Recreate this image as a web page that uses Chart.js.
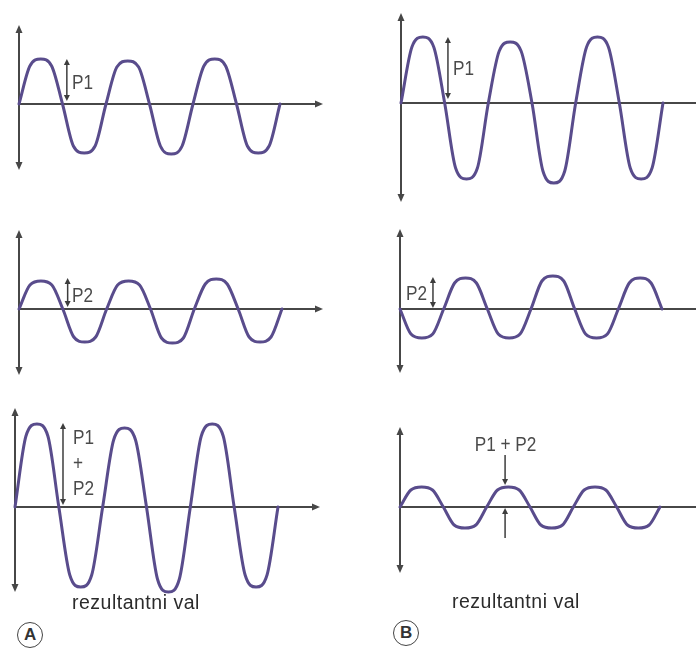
<!DOCTYPE html>
<html><head><meta charset="utf-8">
<script src="https://cdn.jsdelivr.net/npm/chart.js@4.4.0/dist/chart.umd.min.js"></script>
<style>
html,body{margin:0;padding:0;background:#fff;width:696px;height:651px;overflow:hidden;position:relative;}
canvas{position:absolute;}
.lbl{position:absolute;font-family:"Liberation Sans",Arial,sans-serif;font-size:19.5px;letter-spacing:0.5px;color:#2b2b2b;white-space:nowrap;line-height:19px;}
.circ{position:absolute;width:24px;height:24px;border:1.8px solid #444;border-radius:50%;font:bold 17px "Liberation Sans",Arial,sans-serif;color:#333;text-align:center;line-height:24px;}
</style></head><body>
<script>
// x positions of the samples, in eighths of one wave period
const phaseSteps = [0,1,2,3,4,5,6,7,8,9,10,11,12,13,14,15,16,17,18,19,20,21,22,23,24];
// wave values (amplitude units)
const waveA1 = [0,38,45,38,0,-42,-49,-42,0,37,43,37,0,-42,-50,-42,0,38,45,38,0,-42,-49,-42,0];
const waveA2 = [0,24,28,24,0,-28,-33,-28,0,24,28,24,0,-29,-34,-29,0,25,30,25,0,-28,-33,-28,0];
const waveA3 = [0,71,83,71,0,-68,-80,-68,0,67,79,67,0,-72,-85,-72,0,71,83,71,0,-68,-80,-68,0];
const waveB1 = [0,56,66,56,0,-65,-76,-65,0,52,61,52,0,-68,-80,-68,0,56,66,56,0,-65,-76,-65,0];
const waveB2 = [0,-25,-29,-25,0,26,31,26,0,-25,-29,-25,0,28,33,28,0,-25,-29,-25,0,26,31,26,0];
const waveB3 = [0,17,20,17,0,-18,-21,-18,0,17,20,17,0,-18,-21,-18,0,17,20,17,0,-18,-21,-18,0];
// text labels
const labelP1 = "P1";
const labelP2 = "P2";
const labelSumStack = ["P1", "+", "P2"];
const labelSum = "P1 + P2";
const captionText = "rezultantni val";
const panelLetters = ["A", "B"];

const WAVE = '#594c8c';
const AXIS = '#474747';
const NOTE = '#3d3d3d';
const TXT = '#4a4a4a';
const NOTE_FONT = '20px "Liberation Sans", Arial, sans-serif';
const NARROW = 0.86;
const PAD = 12;

// layout (page pixels) for each panel; notes are in data units
const panels = [
  {data: waveA1, left:19, axisY:104, top:25, bottom:170, right:323, waveEnd:280, xArrow:true,
   notes:[{t:'span', x:4.4, y1:45, y2:3}, {t:'text', x:4.87, y:22, s:labelP1, a:'left'}]},
  {data: waveA2, left:19, axisY:309, top:230, bottom:375, right:323, waveEnd:282, xArrow:true,
   notes:[{t:'span', x:4.44, y1:31, y2:2}, {t:'text', x:4.84, y:14, s:labelP2, a:'left'}]},
  {data: waveA3, left:15, axisY:507, top:408, bottom:592, right:320, waveEnd:278, xArrow:true,
   notes:[{t:'span', x:4.38, y1:84, y2:2},
          {t:'text', x:5.29, y:70, s:labelSumStack[0], a:'left'},
          {t:'text', x:5.29, y:44, s:labelSumStack[1], a:'left'},
          {t:'text', x:5.29, y:19, s:labelSumStack[2], a:'left'}]},
  {data: waveB1, left:401, axisY:103, top:13, bottom:202, right:698, waveEnd:663, xArrow:false,
   notes:[{t:'span', x:4.3, y1:66, y2:4}, {t:'text', x:4.76, y:35, s:labelP1, a:'left'}]},
  {data: waveB2, left:400, axisY:309, top:229, bottom:373, right:698, waveEnd:662, xArrow:false,
   notes:[{t:'span', x:3.02, y1:32, y2:1}, {t:'text', x:2.47, y:16, s:labelP2, a:'right'}]},
  {data: waveB3, left:400, axisY:507, top:427, bottom:573, right:698, waveEnd:660, xArrow:false,
   notes:[{t:'text', x:9.74, y:63, s:labelSum, a:'center'},
          {t:'arrow', x:9.7, y1:52, y2:22},
          {t:'arrow', x:9.7, y1:-31, y2:-1}]}
];

function head(ctx, x, y, dir, w, l){
  ctx.beginPath();
  if(dir==='up'){ctx.moveTo(x,y);ctx.lineTo(x-w/2,y+l);ctx.lineTo(x+w/2,y+l);}
  else if(dir==='down'){ctx.moveTo(x,y);ctx.lineTo(x-w/2,y-l);ctx.lineTo(x+w/2,y-l);}
  else {ctx.moveTo(x,y);ctx.lineTo(x-l,y-w/2);ctx.lineTo(x-l,y+w/2);}
  ctx.closePath();ctx.fill();
}

const axesPlugin = {
  id:'waveAxes',
  beforeDatasetsDraw(chart, args, opts){
    const ctx = chart.ctx, ca = chart.chartArea, sx = chart.scales.x, sy = chart.scales.y;
    const x0 = sx.getPixelForValue(0), y0 = sy.getPixelForValue(0);
    ctx.save();
    ctx.strokeStyle = AXIS; ctx.fillStyle = AXIS; ctx.lineWidth = 2;
    ctx.beginPath(); ctx.moveTo(x0, ca.top+4); ctx.lineTo(x0, ca.bottom-4); ctx.stroke();
    head(ctx, x0, ca.top, 'up', 7, 8);
    head(ctx, x0, ca.bottom, 'down', 7, 8);
    ctx.beginPath(); ctx.moveTo(x0, y0); ctx.lineTo(opts.xArrow ? ca.right-4 : ca.right, y0); ctx.stroke();
    if(opts.xArrow) head(ctx, ca.right, y0, 'right', 7, 8);
    ctx.restore();
  },
  afterDatasetsDraw(chart, args, opts){
    const ctx = chart.ctx, sx = chart.scales.x, sy = chart.scales.y;
    ctx.save();
    ctx.strokeStyle = NOTE; ctx.fillStyle = NOTE; ctx.lineWidth = 1.5;
    (opts.notes||[]).forEach(n=>{
      if(n.t==='span'){
        const x = sx.getPixelForValue(n.x), ya = sy.getPixelForValue(n.y1), yb = sy.getPixelForValue(n.y2);
        ctx.beginPath(); ctx.moveTo(x, ya+3); ctx.lineTo(x, yb-3); ctx.stroke();
        head(ctx, x, ya, 'up', 6, 6); head(ctx, x, yb, 'down', 6, 6);
      } else if(n.t==='arrow'){
        const x = sx.getPixelForValue(n.x), ya = sy.getPixelForValue(n.y1), yb = sy.getPixelForValue(n.y2);
        ctx.beginPath(); ctx.moveTo(x, ya); ctx.lineTo(x, yb + (yb>ya ? -3 : 3)); ctx.stroke();
        head(ctx, x, yb, yb>ya ? 'down' : 'up', 6, 6);
      } else if(n.t==='text'){
        ctx.save();
        ctx.fillStyle = TXT;
        ctx.font = NOTE_FONT; ctx.textAlign = n.a; ctx.textBaseline = 'middle';
        ctx.translate(sx.getPixelForValue(n.x), sy.getPixelForValue(n.y)+1);
        ctx.scale(NARROW, 1);
        ctx.fillText(n.s, 0, 0);
        ctx.restore();
      }
    });
    ctx.restore();
  }
};

panels.forEach(p=>{
  const ppu = (p.waveEnd - p.left)/24;
  const cv = document.createElement('canvas');
  const w = (p.right - p.left) + 2*PAD, h = (p.bottom - p.top) + 2*PAD;
  cv.width = w; cv.height = h;
  cv.style.width = w+'px'; cv.style.height = h+'px';
  cv.style.left = (p.left-PAD)+'px'; cv.style.top = (p.top-PAD)+'px';
  document.body.appendChild(cv);
  new Chart(cv, {
    type:'line',
    data:{datasets:[{data: phaseSteps.map((x,i)=>({x:x, y:p.data[i]})),
      borderColor: WAVE, borderWidth: 3, pointRadius: 0, fill:false,
      cubicInterpolationMode:'monotone', clip:false, borderCapStyle:'round', borderJoinStyle:'round'}]},
    options:{
      responsive:false, animation:false, events:[],
      layout:{padding:PAD},
      scales:{
        x:{type:'linear', display:false, min:0, max:(p.right-p.left)/ppu},
        y:{type:'linear', display:false, min:-(p.bottom-p.axisY), max:(p.axisY-p.top)}
      },
      plugins:{legend:{display:false}, tooltip:{enabled:false},
        waveAxes:{xArrow:p.xArrow, notes:p.notes}}
    },
    plugins:[axesPlugin]
  });
});

// captions and panel letters
[[72,593],[452,592]].forEach(pos=>{
  const d = document.createElement('div'); d.className='lbl'; d.textContent = captionText;
  d.style.left = pos[0]+'px'; d.style.top = pos[1]+'px'; document.body.appendChild(d);
});
[[31,636],[407,634]].forEach((pos,i)=>{
  const d = document.createElement('div'); d.className='circ'; d.textContent = panelLetters[i];
  d.style.left = (pos[0]-13.8)+'px'; d.style.top = (pos[1]-13.8)+'px'; document.body.appendChild(d);
});
</script>
</body></html>
